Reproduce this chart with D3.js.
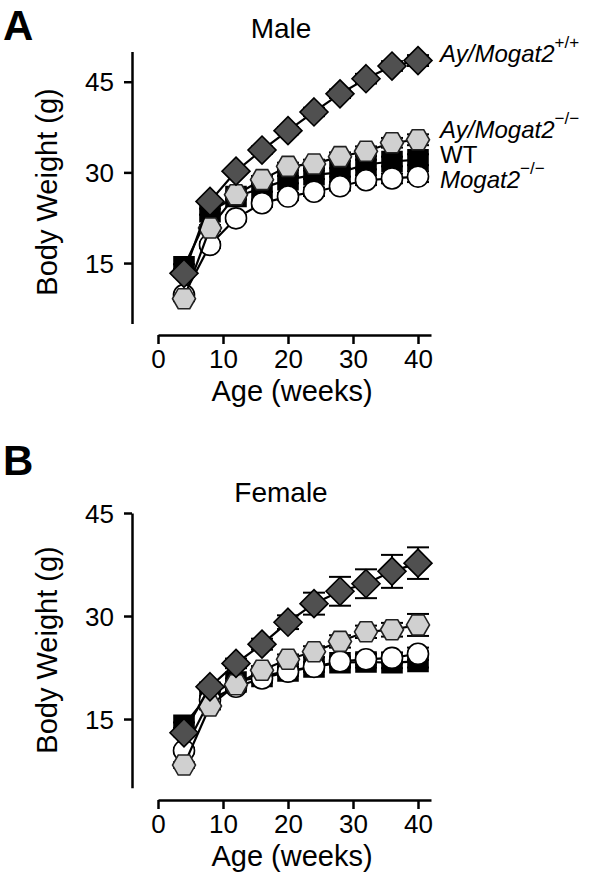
<!DOCTYPE html>
<html><head><meta charset="utf-8">
<script src="https://cdnjs.cloudflare.com/ajax/libs/d3/7.8.5/d3.min.js"></script>
<style>body{margin:0;background:#fff} text{font-family:"Liberation Sans",Arial,Helvetica,sans-serif;fill:#000}</style>
</head><body><svg id="c" width="603" height="876"></svg>
<script>
// ---- data ----
const weeks = [4, 8, 12, 16, 20, 24, 28, 32, 36, 40];
const xTicks = [0, 10, 20, 30, 40];
const yTicks = [15, 30, 45];
const seriesKeys = ["WT", "Mogat2KO", "AyKO", "AyWT"];

// Male (panel A)
const maleWT       = [14.4, 23.5, 26.0, 27.4, 28.8, 29.6, 30.0, 31.3, 31.8, 32.1];
const maleMogat2KO = [9.7, 18.0, 22.4, 24.9, 26.0, 26.8, 27.7, 28.7, 29.0, 29.3];
const maleAyKO     = [9.1, 20.8, 26.3, 28.8, 31.0, 31.4, 32.6, 33.5, 34.9, 35.4];
const maleAyWT     = [13.3, 25.2, 30.2, 33.7, 36.9, 40.0, 43.0, 45.5, 47.6, 48.5];
const maleErr      = [0.4, 0.5, 0.5, 0.6, 0.6, 0.7, 0.7, 0.8, 0.8, 0.9];

// Female (panel B)
const femaleWT       = [14.1, 18.8, 20.4, 21.2, 22.0, 22.6, 23.2, 23.3, 23.2, 23.4];
const femaleMogat2KO = [10.4, 17.8, 19.7, 20.9, 21.9, 22.6, 23.4, 23.7, 23.9, 24.5];
const femaleAyKO     = [8.3, 16.9, 20.0, 22.1, 23.7, 24.8, 26.3, 27.7, 28.0, 28.7];
const femaleAyWT     = [13.0, 19.7, 23.1, 25.9, 29.1, 31.8, 33.6, 34.7, 36.5, 37.7];
const femaleAyKOErr  = [0.4, 0.5, 0.5, 0.6, 0.7, 0.8, 0.9, 0.9, 1.0, 1.6];
const femaleAyWTErr  = [0.5, 0.6, 0.7, 0.8, 1.0, 1.6, 2.1, 2.1, 2.4, 2.3];
const femaleSmallErr = [0.4, 0.5, 0.5, 0.6, 0.6, 0.7, 0.7, 0.8, 0.8, 0.9];

// ---- drawing ----
const svg = d3.select("#c");
const FONT_TICK = 26, FONT_TITLE = 29;

const shapes = {
  WT:       {path: "M-10,-10H10V10H-10Z", fill: "#000", stroke: "#000"},
  Mogat2KO: {circle: 10.5, fill: "#fff", stroke: "#000"},
  AyKO:     {path: "M-11.5,0L-5.75,-10L5.75,-10L11.5,0L5.75,10L-5.75,10Z", fill: "#d0d0d0", stroke: "#222"},
  AyWT:     {path: "M0,-14L14,0L0,14L-14,0Z", fill: "#505050", stroke: "#000"}
};

function panel(opts) {
  const g = svg.append("g");
  const x = d3.scaleLinear().domain([0, 42]).range([158, 431]);
  const y = d3.scaleLinear().domain(opts.yDomain).range(opts.yRange);

  const ya = g.append("g").attr("transform", "translate(132,0)")
    .call(d3.axisLeft(y).tickValues(yTicks).tickSize(8).tickSizeOuter(0).tickPadding(10));
  const xa = g.append("g").attr("transform", `translate(0,${opts.xAxisY})`)
    .call(d3.axisBottom(x).tickValues(xTicks).tickSize(9).tickSizeOuter(0).tickPadding(5));
  [ya, xa].forEach(a => {
    a.select(".domain").attr("stroke", "#000").attr("stroke-width", 2.5);
    a.selectAll(".tick line").attr("stroke", "#000").attr("stroke-width", 2.5);
    a.selectAll(".tick text").style("font-size", FONT_TICK + "px").attr("fill", "#000")
      .style("font-family", '"Liberation Sans",Arial,sans-serif');
  });
  ya.selectAll(".tick text").attr("dy", "0.35em");
  xa.selectAll(".tick text").attr("dy", "0.72em");

  g.append("text").attr("transform", `translate(57,${opts.yTitleY}) rotate(-90)`)
    .attr("text-anchor", "middle").style("font-size", FONT_TITLE + "px").text("Body Weight (g)");
  g.append("text").attr("x", 292).attr("y", opts.xAxisY + 66)
    .attr("text-anchor", "middle").style("font-size", FONT_TITLE + "px").text("Age (weeks)");
  g.append("text").attr("x", 281).attr("y", opts.titleY).attr("text-anchor", "middle")
    .style("font-size", "28px").text(opts.title);
  g.append("text").attr("x", 3).attr("y", opts.letterY).style("font-size", "42px")
    .style("font-weight", "bold").text(opts.letter);

  const line = d3.line().x((d, i) => x(weeks[i])).y(d => y(d));

  seriesKeys.forEach(k => {
    const vals = opts.data[k], errs = opts.err[k], sh = shapes[k];
    const sg = g.append("g");
    const eb = sg.selectAll(".eb").data(vals).join("g");
    eb.append("line").attr("x1", (d, i) => x(weeks[i])).attr("x2", (d, i) => x(weeks[i]))
      .attr("y1", (d, i) => y(d + errs[i])).attr("y2", (d, i) => y(d - errs[i]))
      .attr("stroke", "#000").attr("stroke-width", 2);
    [1, -1].forEach(s => {
      eb.append("line").attr("x1", (d, i) => x(weeks[i]) - 11).attr("x2", (d, i) => x(weeks[i]) + 11)
        .attr("y1", (d, i) => y(d + s * errs[i])).attr("y2", (d, i) => y(d + s * errs[i]))
        .attr("stroke", "#000").attr("stroke-width", 2);
    });
    sg.append("path").datum(vals).attr("d", line).attr("fill", "none")
      .attr("stroke", "#000").attr("stroke-width", 2.2);
    const m = sg.selectAll(".m").data(vals).join(sh.circle ? "circle" : "path")
      .attr("fill", sh.fill).attr("stroke", sh.stroke).attr("stroke-width", 1.6);
    if (sh.circle) m.attr("cx", (d, i) => x(weeks[i])).attr("cy", d => y(d)).attr("r", sh.circle);
    else m.attr("d", sh.path).attr("transform", (d, i) => `translate(${x(weeks[i])},${y(d)})`);
  });
  return {x, y, g};
}

const A = panel({
  yDomain: [5, 50], yRange: [323.5, 51.5], xAxisY: 335, yTitleY: 192,
  title: "Male", titleY: 38, letter: "A", letterY: 40,
  data: {WT: maleWT, Mogat2KO: maleMogat2KO, AyKO: maleAyKO, AyWT: maleAyWT},
  err: {WT: maleErr, Mogat2KO: maleErr, AyKO: maleErr, AyWT: maleErr}
});
panel({
  yDomain: [5, 45], yRange: [787.7, 513], xAxisY: 800, yTitleY: 650,
  title: "Female", titleY: 502, letter: "B", letterY: 475,
  data: {WT: femaleWT, Mogat2KO: femaleMogat2KO, AyKO: femaleAyKO, AyWT: femaleAyWT},
  err: {WT: femaleSmallErr, Mogat2KO: femaleSmallErr, AyKO: femaleAyKOErr, AyWT: femaleAyWTErr}
});

const labels = [
  {main: "Ay/Mogat2", sup: "+/+", italic: true, y: 62},
  {main: "Ay/Mogat2", sup: "−/−", italic: true, y: 138},
  {main: "WT", sup: "", italic: false, y: 163},
  {main: "Mogat2", sup: "−/−", italic: true, y: 188}
];
labels.forEach(l => {
  const t = A.g.append("text").attr("x", 440).attr("y", l.y).style("font-size", "24px");
  t.append("tspan").style("font-style", l.italic ? "italic" : "normal").text(l.main);
  if (l.sup) t.append("tspan").attr("dy", -14).style("font-size", "17px").text(l.sup);
});
</script></body></html>
